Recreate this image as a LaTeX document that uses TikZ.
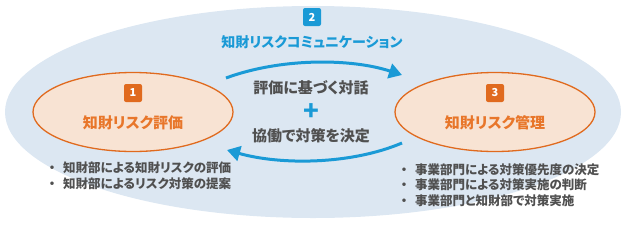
\documentclass[tikz,border=0pt]{standalone}
\usepackage{fontspec}
\setmainfont{Noto Sans CJK JP}[RawFeature=+palt]
\usetikzlibrary{arrows.meta,shapes.geometric}
\definecolor{skyfill}{HTML}{DCE7F2}
\definecolor{accent}{HTML}{1A9AD6}
\definecolor{orangeline}{HTML}{E06A1E}
\definecolor{orangefill}{HTML}{F8E3D3}
\definecolor{orangetext}{HTML}{E8762A}
\definecolor{darkgray}{HTML}{505050}
\newcommand{\itemdot}{\makebox[12pt][c]{・}\hspace{5pt}}

\begin{document}
\begin{tikzpicture}[x=1pt,y=-1pt,>={Triangle[length=13pt,width=15pt]},
  phase/.style={ellipse,draw=orangeline,line width=1.3pt,fill=orangefill,
    minimum width=200pt,minimum height=79pt,inner sep=0pt},
  badge/.style={rounded corners=2pt,minimum size=18pt,inner sep=0pt,
    text=white,font=\bfseries\fontsize{11}{11}\selectfont},
  label/.style={font=\bfseries\fontsize{15}{15}\selectfont},
  items/.style={align=left,anchor=north west,inner sep=0pt,text=darkgray,
    font=\bfseries\fontsize{12.5}{15.5}\selectfont},
  flow/.style={accent,line width=3pt,->}]
  \useasboundingbox (0,0) rectangle (624,226);
  % outer communication ellipse
  \node[ellipse,fill=skyfill,minimum width=616pt,minimum height=212pt,inner sep=0pt] (comm) at (313,112) {};
  \node[badge,fill=accent] (badgetwo) at (312,17) {2};
  \node[label,accent,font=\bfseries\fontsize{14}{14}\selectfont] (commtitle) at (312,42) {知財リスクコミュニケーション};
  % the two phases
  \node[phase] (evaluate) at (133,112) {};
  \node[badge,fill=orangeline] (badgeone) at (133,93) {1};
  \node[label,orangetext] (evaltitle) at (133,123) {知財リスク評価};
  \node[phase] (manage) at (495,112) {};
  \node[badge,fill=orangeline] (badgethree) at (495,93) {3};
  \node[label,orangetext] (managetitle) at (495,123) {知財リスク管理};
  % middle text
  \node[label,darkgray] (dialogue) at (311,88) {評価に基づく対話};
  \node[accent,font=\bfseries\fontsize{26}{26}\selectfont] (plus) at (311,112) {+};
  \node[label,darkgray] (decide) at (311,136) {協働で対策を決定};
  % arrows
  \coordinate (topstart) at (226,78);
  \coordinate (topend) at (402,75);
  \coordinate (botstart) at (402,143);
  \coordinate (botend) at (227,150);
  \draw[flow] (topstart) .. controls (280,58) and (350,58) .. (topend);
  \draw[flow] (botstart) .. controls (350,165) and (280,165) .. (botend);
  % bullet lists
  \node[items] (evalitems) at (46,162) {\itemdot 知財部による知財リスクの評価\\
    \itemdot 知財部によるリスク対策の提案};
  \node[items] (manageitems) at (398,163) {\itemdot 事業部門による対策優先度の決定\\
    \itemdot 事業部門による対策実施の判断\\
    \itemdot 事業部門と知財部で対策実施};
\end{tikzpicture}
\end{document}
